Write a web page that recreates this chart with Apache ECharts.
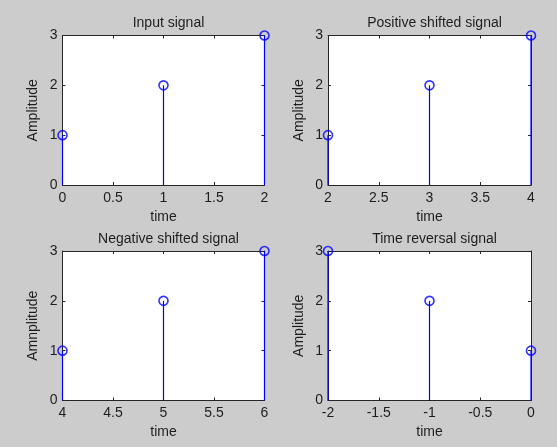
<!DOCTYPE html>
<html><head><meta charset="utf-8">
<script src="https://cdn.jsdelivr.net/npm/echarts@6/dist/echarts.min.js"></script>
<style>html,body{margin:0;padding:0;background:#cccccc}#c{width:557px;height:447px}</style>
</head><body><div id="c"></div>
<script>
// ---- data ----
const titles = ['Input signal', 'Positive shifted signal', 'Negative shifted signal', 'Time reversal signal'];
const yNames = ['Amplitude', 'Amplitude', 'Amnplitude', 'Amplitude'];
const xName = 'time';
const inputX = [0, 1, 2];
const inputY = [1, 2, 3];
const posX = [2, 3, 4];
const posY = [1, 2, 3];
const negX = [4, 5, 6];
const negY = [1, 2, 3];
const revX = [-2, -1, 0];
const revY = [3, 2, 1];
const xMins = [0, 2, 4, -2];
const xMaxs = [2, 4, 6, 0];
const xTickStep = 0.5;
const yMin = 0, yMax = 3, yTickStep = 1;

const seriesX = [inputX, posX, negX, revX];
const seriesY = [inputY, posY, negY, revY];

// ---- layout ----
const grids = [
  {left: 62.5, top: 35.5, width: 202, height: 149.5},
  {left: 328, top: 35.5, width: 203, height: 149.5},
  {left: 62.5, top: 251, width: 202, height: 149.5},
  {left: 328, top: 251, width: 203, height: 149.5}
];
const FONT = 'Liberation Sans, Arial, sans-serif';
const TXT = '#1e1e1e';
const AX = '#262626';
const BLUE = '#0000ff';

const option = {
  backgroundColor: '#cccccc',
  animation: false,
  title: [], grid: [], xAxis: [], yAxis: [], series: []
};

grids.forEach((g, i) => {
  option.grid.push({left: g.left, top: g.top, width: g.width, height: g.height,
    show: true, backgroundColor: '#ffffff', borderWidth: 0, containLabel: false});
  option.title.push({text: titles[i], left: g.left + g.width / 2, top: g.top - 24,
    textAlign: 'center',
    textStyle: {fontFamily: FONT, fontSize: 14, fontWeight: 'normal', color: TXT}});
  const axLine = {show: true, onZero: false, lineStyle: {color: AX, width: 1}};
  const tick = {show: true, inside: true, length: 3, lineStyle: {color: AX}};
  const lbl = {fontFamily: FONT, fontSize: 14, color: TXT, margin: 5};
  option.xAxis.push({type: 'value', gridIndex: i, position: 'bottom', min: xMins[i], max: xMaxs[i],
    interval: xTickStep, axisLine: axLine, axisTick: tick, splitLine: {show: false},
    axisLabel: Object.assign({}, lbl, {margin: 6}),
    name: xName, nameLocation: 'middle', nameGap: 25,
    nameTextStyle: {fontFamily: FONT, fontSize: 14, color: TXT}});
  option.xAxis.push({type: 'value', gridIndex: i, position: 'top', min: xMins[i], max: xMaxs[i],
    interval: xTickStep, axisLine: axLine, axisTick: tick, splitLine: {show: false},
    axisLabel: {show: false}});
  option.yAxis.push({type: 'value', gridIndex: i, position: 'left', min: yMin, max: yMax,
    interval: yTickStep, axisLine: axLine, axisTick: tick, splitLine: {show: false},
    axisLabel: lbl,
    name: yNames[i], nameLocation: 'middle', nameGap: 22, nameRotate: 90,
    nameTextStyle: {fontFamily: FONT, fontSize: 14, color: TXT}});
  option.yAxis.push({type: 'value', gridIndex: i, position: 'right', min: yMin, max: yMax,
    interval: yTickStep, axisLine: axLine, axisTick: tick, splitLine: {show: false},
    axisLabel: {show: false}});
  const data = seriesX[i].map((x, k) => [x, seriesY[i][k]]);
  option.series.push({
    type: 'custom', xAxisIndex: 2 * i, yAxisIndex: 2 * i, data: data, clip: false, z: 5,
    renderItem: function (params, api) {
      const x = api.value(0), y = api.value(1);
      const p0 = api.coord([x, 0]);
      const p1 = api.coord([x, y]);
      return {type: 'line', shape: {x1: p0[0], y1: p0[1], x2: p1[0], y2: p1[1]},
        style: {stroke: BLUE, lineWidth: 1.2}};
    }
  });
  option.series.push({
    type: 'scatter', xAxisIndex: 2 * i, yAxisIndex: 2 * i, data: data, clip: false, z: 6,
    symbol: 'circle', symbolSize: 9,
    itemStyle: {color: 'rgba(0,0,0,0)', borderColor: BLUE, borderWidth: 1.6}
  });
});

const chart = echarts.init(document.getElementById('c'), null, {renderer: 'canvas'});
chart.setOption(option);
</script>
</body></html>
